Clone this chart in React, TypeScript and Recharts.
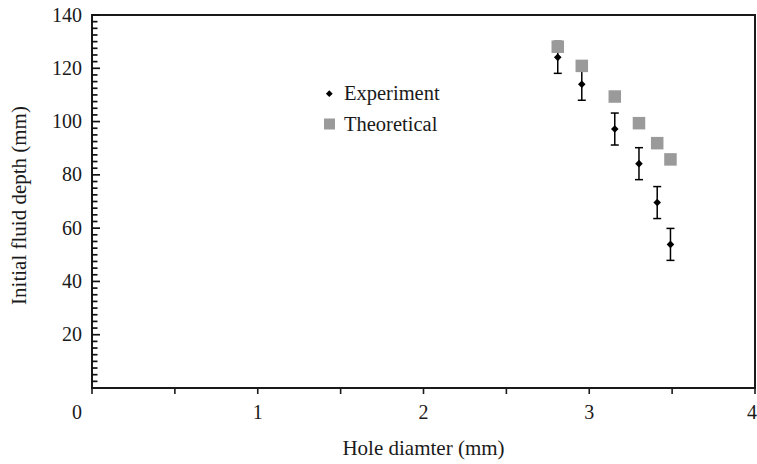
import React from 'react';
import { ScatterChart, Scatter, XAxis, YAxis, ErrorBar, Legend, Label, ReferenceArea } from 'recharts';

const holeDiameters = [2.81, 2.955, 3.154, 3.3, 3.41, 3.49];
const experimentDepth = [124.1, 114.0, 97.2, 84.2, 69.6, 53.9];
const experimentError = [6, 6, 6, 6, 6, 6];
const theoreticalDepth = [128.1, 120.9, 109.4, 99.4, 91.9, 85.8];

const xTicks = [0, 0.5, 1, 1.5, 2, 2.5, 3, 3.5, 4];
const yMajorLabels = [20, 40, 60, 80, 100, 120, 140];
const yTicks: number[] = [];
for (let i = 0; i <= 56; i++) yTicks.push(i * 2.5);

const experimentData = holeDiameters.map((x, i) => ({ x, y: experimentDepth[i], err: experimentError[i] }));
const theoreticalData = holeDiameters.map((x, i) => ({ x, y: theoreticalDepth[i] }));

const FONT = '"Liberation Serif", "Times New Roman", Times, serif';
const INK = '#1a1a1a';

const XTick = (props: any) => {
  const { x, y, payload } = props;
  const v = payload.value;
  const isInt = Number.isInteger(v);
  let lx = x;
  if (v === 0) lx = x - 15;
  if (v === 4) lx = x - 3;
  return (
    <g>
      <line x1={x} x2={x} y1={y} y2={y + 6} stroke={INK} strokeWidth={1.6} />
      {isInt && (
        <text x={lx} y={y + 31} textAnchor="middle" fontFamily={FONT} fontSize={20} fill={INK}>
          {v}
        </text>
      )}
    </g>
  );
};

const YTick = (props: any) => {
  const { x, y, payload } = props;
  const v = payload.value;
  const major = yMajorLabels.includes(v);
  return (
    <g>
      {v > 0 && (
        <line x1={x} x2={x + (major ? 8 : 5.5)} y1={y} y2={y} stroke="#111" strokeWidth={1.7} />
      )}
      {major && (
        <text x={x - 10} y={y + 6.5} textAnchor="end" fontFamily={FONT} fontSize={20} fill={INK}>
          {v}
        </text>
      )}
    </g>
  );
};

const Diamond = (props: any) => {
  const { cx, cy } = props;
  const r = 3.8;
  return <polygon points={`${cx},${cy - r} ${cx + r},${cy} ${cx},${cy + r} ${cx - r},${cy}`} fill="#000" />;
};

const Square = (props: any) => {
  const { cx, cy } = props;
  const s = 12.5;
  return <rect x={cx - s / 2} y={cy - s / 2} width={s} height={s} fill="#9a9a9a" />;
};

const LegendContent = (props: any) => {
  const payload = props.payload || [];
  return (
    <svg width={170} height={64} style={{ display: 'block' }}>
      {payload.map((entry: any, i: number) => {
        const cy = i === 0 ? 13.7 : 44;
        const isExp = entry.value === 'Experiment';
        return (
          <g key={entry.value}>
            {isExp ? (
              <polygon points={`11.3,${cy - 3.4} 14.7,${cy} 11.3,${cy + 3.4} 7.9,${cy}`} fill="#000" />
            ) : (
              <rect x={6} y={cy - 5.5} width={11} height={11} fill="#9a9a9a" />
            )}
            <text x={26} y={cy + 6.5} fontFamily={FONT} fontSize={20.5} fill={INK}>
              {entry.value}
            </text>
          </g>
        );
      })}
    </svg>
  );
};

const YTitle = (props: any) => {
  const { viewBox } = props;
  const cx = 18.5;
  const cy = viewBox.y + viewBox.height / 2 + 4;
  return (
    <text
      x={cx}
      y={cy}
      transform={`rotate(-90, ${cx}, ${cy})`}
      textAnchor="middle"
      dominantBaseline="central"
      fontFamily={FONT}
      fontSize={21}
      fill={INK}
    >
      Initial fluid depth (mm)
    </text>
  );
};

const XTitle = (props: any) => {
  const { viewBox } = props;
  const cx = viewBox.x + viewBox.width / 2;
  return (
    <text x={cx} y={455} textAnchor="middle" fontFamily={FONT} fontSize={21} fill={INK}>
      Hole diamter (mm)
    </text>
  );
};

export default function App() {
  return (
    <div style={{ position: 'absolute', left: 0, top: 0, width: 757, height: 464, background: '#fff' }}>
      <ScatterChart width={757} height={464} margin={{ top: 15, right: 2, bottom: 0, left: 0 }}>
        <ReferenceArea x1={0} x2={4} y1={0} y2={140} fill="none" fillOpacity={0} stroke={INK} strokeWidth={2} />
        <XAxis
          type="number"
          dataKey="x"
          domain={[0, 4]}
          ticks={xTicks}
          interval={0}
          tickSize={0}
          tickMargin={0}
          tick={<XTick />}
          height={76}
          axisLine={{ stroke: INK, strokeWidth: 2 }}
          allowDataOverflow
        >
          <Label content={<XTitle />} />
        </XAxis>
        <YAxis
          type="number"
          dataKey="y"
          domain={[0, 140]}
          ticks={yTicks}
          interval={0}
          tickSize={0}
          tickMargin={0}
          tick={<YTick />}
          width={92}
          axisLine={{ stroke: INK, strokeWidth: 2 }}
          allowDataOverflow
        >
          <Label content={<YTitle />} />
        </YAxis>
        <Legend
          layout="vertical"
          align="center"
          verticalAlign="middle"
          content={<LegendContent />}
          wrapperStyle={{ position: 'absolute', left: 318, top: 80, width: 170, height: 64 }}
        />
        <Scatter name="Experiment" data={experimentData} fill="#000" shape={<Diamond />} isAnimationActive={false}>
          <ErrorBar dataKey="err" direction="y" width={4} stroke="#000" strokeWidth={1.5} />
        </Scatter>
        <Scatter name="Theoretical" data={theoreticalData} fill="#9a9a9a" shape={<Square />} isAnimationActive={false} />
      </ScatterChart>
    </div>
  );
}
